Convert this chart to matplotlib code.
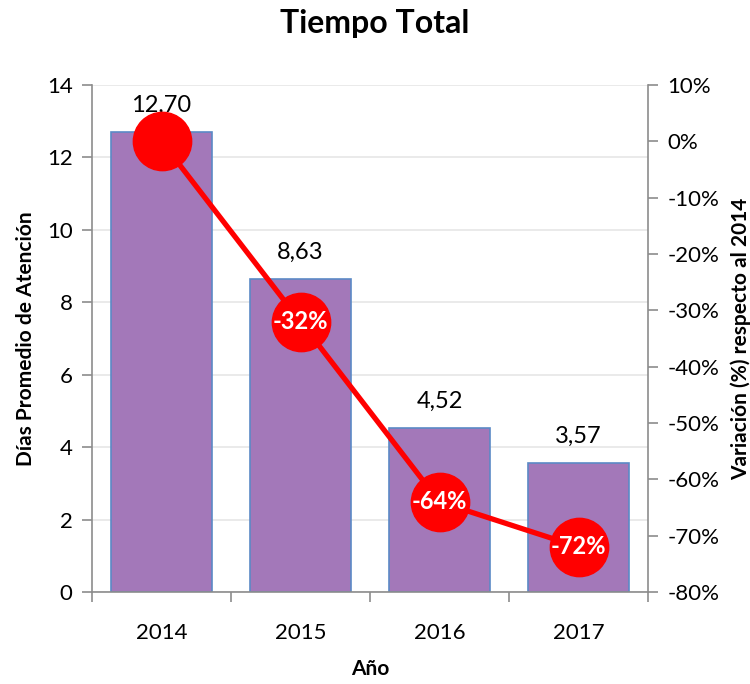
import matplotlib
matplotlib.use("Agg")
import matplotlib.pyplot as plt
from matplotlib.ticker import FixedLocator

plt.rcParams['font.family'] = ['Lato', 'DejaVu Sans']

years = ["2014", "2015", "2016", "2017"]
dias = [12.70, 8.63, 4.52, 3.57]
variacion = [0, -32, -64, -72]
bar_labels = ["12,70", "8,63", "4,52", "3,57"]
var_labels = ["", "-32%", "-64%", "-72%"]
left_ticks = [0, 2, 4, 6, 8, 10, 12, 14]
right_ticks = [10, 0, -10, -20, -30, -40, -50, -60, -70, -80]

fig = plt.figure(figsize=(7.5, 6.84), dpi=100)
ax = fig.add_axes([92/750, (684-592)/684, (648-92)/750, (592-85)/684])
x = list(range(len(years)))

gray = "#8c8c8c"
ax.bar(x, dias, width=0.73, color="#A378B9", edgecolor="#5B8AC6", linewidth=1.2, zorder=2)
ax.set_xlim(-0.5, 3.5)
ax.set_ylim(0, 14)
ax.set_yticks(left_ticks)
ax.set_yticklabels([str(t) for t in left_ticks], fontsize=16)
ax.grid(axis='y', color="#e6e6e6", linewidth=1.2, zorder=0)
ax.set_axisbelow(True)
ax.xaxis.set_major_locator(FixedLocator([-0.5, 0.5, 1.5, 2.5, 3.5]))
ax.set_xticklabels([])
ax.xaxis.set_minor_locator(FixedLocator(x))
ax.set_xticklabels(years, minor=True, fontsize=16)
ax.tick_params(axis='x', which='major', length=7, color=gray, width=1.2)
ax.tick_params(axis='x', which='minor', length=0, pad=22)
ax.tick_params(axis='y', length=7, color=gray, width=1.2, pad=7)
for s in ['top', 'right']:
    ax.spines[s].set_visible(False)
for s in ['left', 'bottom']:
    ax.spines[s].set_color(gray)
    ax.spines[s].set_linewidth(1.2)

for xi, v, lab in zip(x, dias, bar_labels):
    ax.text(xi, v + 0.45, lab, ha='center', va='bottom', fontsize=17)

ax.set_ylabel("Días Promedio de Atención", fontsize=15, fontweight='bold', labelpad=8)
ax.set_xlabel("Año", fontsize=15, fontweight='bold', labelpad=12)

ax2 = ax.twinx()
ax2.set_ylim(-80, 10)
ax2.set_yticks(right_ticks)
ax2.set_yticklabels([f"{t}%" for t in right_ticks], fontsize=16)
ax2.tick_params(axis='y', length=7, color=gray, width=1.2, pad=7)
for s in ['top', 'left', 'bottom']:
    ax2.spines[s].set_visible(False)
ax2.spines['right'].set_color(gray)
ax2.spines['right'].set_linewidth(1.2)
ax2.plot(x, variacion, color="#FF0000", linewidth=3.8, marker='o', markersize=42,
         markerfacecolor="#FF0000", markeredgecolor="#FF0000", zorder=3)
for xi, v, lab in zip(x, variacion, var_labels):
    if lab:
        ax2.text(xi, v, lab, ha='center', va='center', fontsize=17, fontweight='bold',
                 color='white', zorder=4)
ax2.set_ylabel("Variación (%) respecto al 2014", fontsize=15, fontweight='bold', labelpad=8)

fig.text(0.5, 0.965, "Tiempo Total", ha='center', va='center', fontsize=23, fontweight='bold')

fig.savefig("out.png", dpi=100)
